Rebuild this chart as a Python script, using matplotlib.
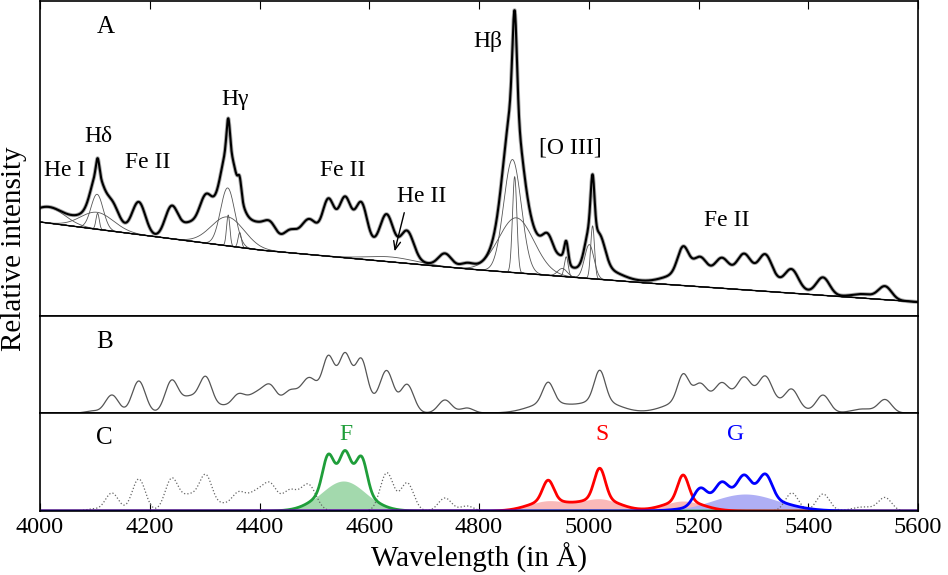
import numpy as np
import matplotlib
matplotlib.use('Agg')
import matplotlib.pyplot as plt

plt.rcParams['font.family'] = ['Liberation Serif', 'DejaVu Serif']

# continuum (power-law like), read at a few wavelengths
cont_wave = [4000, 4400, 4780, 5080, 5600]
cont_flux = [94, 66, 47, 34, 14]

# emission line components of panel A: centre (A), peak height, gaussian sigma (A)
em_names = ['He I', 'Hd broad', 'Hd int', 'Hd narrow', 'Hg broad', 'Hg int', 'Hg narrow',
            '[O III]4363', 'He II', 'Hb broad', 'Hb int', 'Hb narrow',
            '[O III]4959 w', '[O III]4959 n', '[O III]5007 w', '[O III]5007 n']
em_center = [4015, 4104, 4104, 4105, 4342, 4342, 4343, 4364, 4640, 4868, 4861, 4865, 4952, 4959, 5001, 5007]
em_peak = [16, 17, 35, 16, 29, 58, 31, 15, 5, 55, 113, 96, 8, 20, 34, 53]
em_sigma = [30, 30, 11, 3, 30, 13, 3, 3, 45, 32, 16, 4, 8.5, 3.5, 8.5, 3.5]

# Fe II template, F group
f_center = [4525, 4556, 4586]
f_peak = [33, 30, 33]
f_sigma = 10
f_broad_center, f_broad_peak, f_broad_sigma = 4553, 30, 40

# Fe II template, S group
s_center = [4926, 5020, 5172]
s_peak = [20.5, 30.5, 26]
s_sigma = 10
s_broad_peak = [10, 12, 10]
s_broad_sigma = 35

# Fe II template, G group
g_center = [5203, 5242, 5283, 5322]
g_peak = [16.5, 16, 19, 23]
g_sigma = 12
g_broad_center, g_broad_peak, g_broad_sigma = 5285, 17, 59

# remaining Fe II lines (dotted in C)
other_center = [4095, 4131, 4180, 4240, 4272, 4302, 4333, 4361, 4383, 4400, 4420, 4455, 4489,
                4632, 4669, 4738, 4778, 5370, 5427, 5500, 5540]
other_peak = [2, 18, 32, 32, 15, 35, 6, 17, 10, 14, 24, 20, 26, 38, 28, 13, 5, 18, 17, 4, 13]
other_sigma = [12, 12, 12, 12, 14, 12, 12, 12, 12, 12, 12, 14, 14, 12, 12, 12, 12, 12, 12, 20, 12]


def gauss(x, c, p, s):
    return p * np.exp(-0.5 * ((x - c) / s) ** 2)


wave = np.arange(4000, 5600.5, 0.5)
continuum = np.interp(wave, cont_wave, cont_flux)
components = [gauss(wave, c, p, s) for c, p, s in zip(em_center, em_peak, em_sigma)]

f_broad = gauss(wave, f_broad_center, f_broad_peak, f_broad_sigma)
f_total = f_broad + sum(gauss(wave, c, p, f_sigma) for c, p in zip(f_center, f_peak))
s_broad = sum(gauss(wave, c, p, s_broad_sigma) for c, p in zip(s_center, s_broad_peak))
s_total = s_broad + sum(gauss(wave, c, p, s_sigma) for c, p in zip(s_center, s_peak))
g_broad = gauss(wave, g_broad_center, g_broad_peak, g_broad_sigma)
g_total = g_broad + sum(gauss(wave, c, p, g_sigma) for c, p in zip(g_center, g_peak))
other = sum(gauss(wave, c, p, s) for c, p, s in zip(other_center, other_peak, other_sigma))
fe_template = other + f_total + s_total + g_total

fit = continuum + sum(components) + fe_template

W, H = 948, 575
fig = plt.figure(figsize=(W / 100, H / 100), dpi=100)
left, width = 40 / W, 878 / W
axA = fig.add_axes([left, 1 - 316 / H, width, 315 / H])
axB = fig.add_axes([left, 1 - 413 / H, width, 97 / H])
axC = fig.add_axes([left, 1 - 511 / H, width, 98 / H])

for ax in (axA, axB, axC):
    ax.set_xlim(4000, 5600)
    ax.set_yticks([])
    for sp in ax.spines.values():
        sp.set_linewidth(1.2)

ticks = np.arange(4000, 5601, 200)

# ---- A
axA.set_ylim(0, 315)
axA.plot(wave, fit, color='#aaaaaa', lw=2.8)
for comp in components:
    axA.plot(wave, continuum + comp, color='#555555', lw=0.6)
axA.plot(wave, continuum, color='k', lw=1.0)
axA.plot(wave, fit, color='k', lw=1.5)
axA.set_xticks(ticks)
axA.tick_params(axis='x', direction='in', top=True, bottom=False, labelbottom=False,
                length=6, width=0.8)

fs = 17
axA.text(4120, 289, 'A', fontsize=18, ha='center', va='center')
axA.text(4045, 145, 'He I', fontsize=fs, ha='center', va='center')
axA.text(4106, 179, 'Hδ', fontsize=fs, ha='center', va='center')
axA.text(4197, 154, 'Fe II', fontsize=fs, ha='center', va='center')
axA.text(4355, 216, 'Hγ', fontsize=fs, ha='center', va='center')
axA.text(4552, 145, 'Fe II', fontsize=fs, ha='center', va='center')
axA.text(4696, 119, 'He II', fontsize=fs, ha='center', va='center')
axA.text(4816, 274, 'Hβ', fontsize=fs, ha='center', va='center')
axA.text(4966, 168, '[O III]', fontsize=fs, ha='center', va='center')
axA.text(5252, 96, 'Fe II', fontsize=fs, ha='center', va='center')
axA.annotate('', xy=(4645, 62), xytext=(4665, 106),
             arrowprops=dict(arrowstyle='->,head_length=0.6,head_width=0.25', color='k', lw=1.0))

# ---- B
axB.set_ylim(0, 97)
axB.plot(wave, fe_template, color='#555555', lw=0.9)
axB.set_xticks([])
axB.text(4117, 71, 'B', fontsize=18, ha='center', va='center')

# ---- C
axC.set_ylim(0, 98)
axC.set_axisbelow(True)
axC.fill_between(wave, 0, s_broad, color='#f9b9b9', lw=0)
axC.fill_between(wave, 0, f_broad, color='#a3d9ad', lw=0)
axC.fill_between(wave, 0, g_broad, color='#afaff5', lw=0)
axC.plot(wave, other, color='#666666', lw=0.9, ls=':')
axC.plot(wave, f_total, color='#1f9e3a', lw=2)
axC.plot(wave, s_total, color='#ff0000', lw=2)
axC.plot(wave, g_total, color='#0000ff', lw=2)
axC.set_xticks(ticks)
axC.tick_params(axis='x', direction='in', length=6, width=0.8, pad=4, labelsize=17.5)
axC.text(4117, 73, 'C', fontsize=18, ha='center', va='center')
axC.text(4558, 77, 'F', fontsize=fs, ha='center', va='center', color='#1f9e3a')
axC.text(5024, 77, 'S', fontsize=fs, ha='center', va='center', color='#ff0000')
axC.text(5268, 77, 'G', fontsize=fs, ha='center', va='center', color='#0000ff')
axC.set_xlabel('Wavelength (in Å)', fontsize=21, labelpad=4)

fig.text(14 / W, 1 - 249 / H, 'Relative intensity', rotation=90, fontsize=21,
         ha='center', va='center')

fig.savefig('out.png', dpi=100)
